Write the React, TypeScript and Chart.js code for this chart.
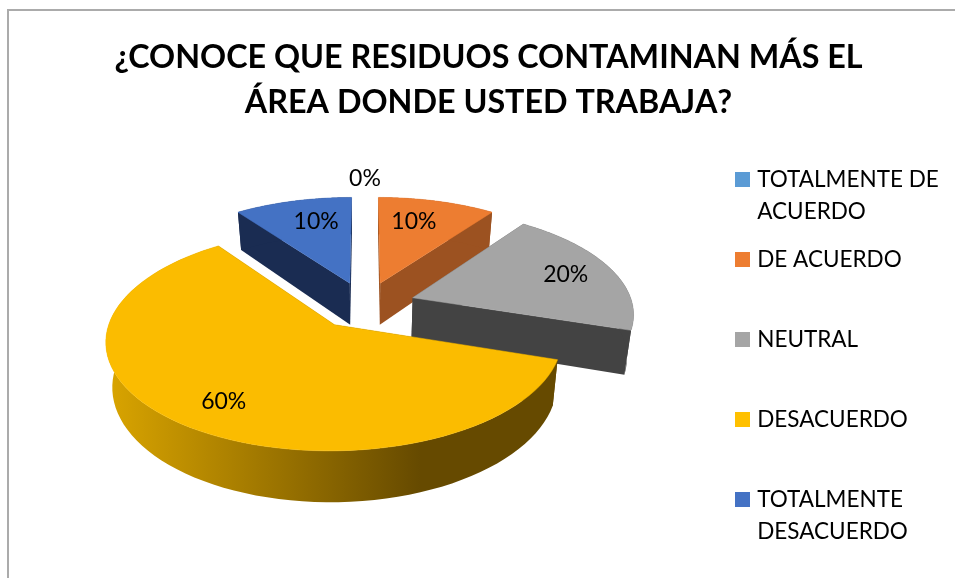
import React, { useEffect, useRef } from "react";
import { Chart, registerables } from "chart.js";

Chart.register(...registerables);

const titleLines = ["¿CONOCE QUE RESIDUOS CONTAMINAN MÁS EL", "ÁREA DONDE USTED TRABAJA?"];
const categories = ["TOTALMENTE DE ACUERDO", "DE ACUERDO", "NEUTRAL", "DESACUERDO", "TOTALMENTE DESACUERDO"];
const legendLines = [["TOTALMENTE DE", "ACUERDO"], ["DE ACUERDO", ""], ["NEUTRAL", ""], ["DESACUERDO", ""], ["TOTALMENTE", "DESACUERDO"]];
const values = [0, 10, 20, 60, 10];
const explosions = [23, 23, 23, 23, 23];
const labelRadii = [1.25, 0.71, 0.77, 0.775, 0.71];
const labelTurns = [0, -2.6, 0, -1.5, 2.6];
const topColors = ["#5B9BD5", "#ED7D31", "#A5A5A5", "#FBBC00", "#4472C4"];
const sideColors = ["#2A4F72", "#9C5221", "#434343", "#664A00", "#1A2C52"];
const legendColors = ["#5B9BD5", "#ED7D31", "#A5A5A5", "#FFC000", "#4472C4"];
const FONT = "Lato, 'Noto Sans', sans-serif";

// Projection of the pie's disc onto the page (3D view).
const CX = 365, CY = 305, AX = 220, BY = 103, PERSP = 0.137, DEPTH = 43, BOTTOM_SHRINK = 0.975;

function project(u: number, v: number, bottom = false): [number, number] {
  const w = 1 - PERSP * v;
  let x = (AX * u) / w;
  let y = (BY * v) / w;
  if (bottom) {
    x *= BOTTOM_SHRINK;
    y += DEPTH / w;
  }
  return [CX + x, CY + y];
}

function swatch(color: string) {
  const c = document.createElement("canvas");
  c.width = 15;
  c.height = 15;
  const g = c.getContext("2d")!;
  g.fillStyle = color;
  g.fillRect(0, 0, 15, 15);
  return c;
}

function poly(ctx: CanvasRenderingContext2D, pts: [number, number][], fill: string | CanvasGradient, edge = false) {
  ctx.beginPath();
  pts.forEach((p, i) => (i ? ctx.lineTo(p[0], p[1]) : ctx.moveTo(p[0], p[1])));
  ctx.closePath();
  ctx.fillStyle = fill;
  ctx.fill();
  if (edge) {
    ctx.strokeStyle = fill as string;
    ctx.lineWidth = 0.5;
    ctx.stroke();
  }
}

const pie3d = {
  id: "pie3d",
  beforeDraw(chart: any) {
    const { ctx } = chart;
    ctx.save();
    ctx.strokeStyle = "#ABABAB";
    ctx.lineWidth = 2;
    ctx.beginPath();
    ctx.moveTo(8, 578);
    ctx.lineTo(8, 10);
    ctx.lineTo(955, 10);
    ctx.stroke();
    ctx.restore();
  },
  afterLayout(chart: any) {
    const lg = chart.legend;
    lg.left = 723;
    lg.right = 955;
    lg.top = 152.5;
    lg.bottom = 578;
  },
  beforeDatasetsDraw(chart: any) {
    const { ctx } = chart;
    const arcs = chart.getDatasetMeta(0).data;
    ctx.save();
    // Back to front: last slice, then clockwise ones, the big front slice at the end.
    const order = [4, 0, 1, 2, 3];
    order.forEach((i) => {
      const arc = arcs[i];
      if (!values[i]) return;
      const a = arc.startAngle + Math.PI / 2;
      const b = arc.endAngle + Math.PI / 2;
      const mid = (a + b) / 2;
      const d = arc.options.offset / 100;
      const ou = d * Math.sin(mid);
      const ov = -d * Math.cos(mid);
      const N = 80;
      const rimTop: [number, number][] = [];
      const rimBot: [number, number][] = [];
      for (let k = 0; k <= N; k++) {
        const t = a + ((b - a) * k) / N;
        const u = ou + Math.sin(t);
        const v = ov - Math.cos(t);
        rimTop.push(project(u, v));
        rimBot.push(project(u, v, true));
      }
      const apexT = project(ou, ov);
      const apexB = project(ou, ov, true);
      const side = sideColors[i];
      poly(ctx, [apexT, rimTop[0], rimBot[0], apexB], side);
      poly(ctx, [apexT, rimTop[N], rimBot[N], apexB], side);
      let wall: any = side;
      if (i === 3) {
        wall = ctx.createLinearGradient(106, 0, 420, 0);
        wall.addColorStop(0, "#DAA500");
        wall.addColorStop(1, side);
      }
      poly(ctx, [...rimTop, ...rimBot.slice().reverse()], wall);
      poly(ctx, [apexT, ...rimTop], topColors[i], true);
    });
    // Data labels
    ctx.fillStyle = "#000";
    ctx.font = `23px ${FONT}`;
    ctx.textAlign = "center";
    ctx.textBaseline = "middle";
    values.forEach((val, i) => {
      const arc = arcs[i];
      const mid = (arc.startAngle + arc.endAngle) / 2 + Math.PI / 2 + (labelTurns[i] * Math.PI) / 180;
      const d = arc.options.offset / 100;
      const r = labelRadii[i];
      const [x, y] = project((d + r) * Math.sin(mid), -(d + r) * Math.cos(mid));
      ctx.fillText(`${val}%`, x, y);
    });
    ctx.restore();
    return false;
  },
};

export default function App() {
  const ref = useRef<HTMLCanvasElement>(null);
  useEffect(() => {
    const chart = new Chart(ref.current!, {
      type: "pie",
      data: {
        labels: categories,
        datasets: [{ data: values, backgroundColor: topColors, offset: explosions, borderWidth: 0 }],
      },
      options: {
        animation: false,
        responsive: false,
        layout: { padding: { left: 22 } },
        plugins: {
          title: {
            display: true,
            text: titleLines,
            color: "#000",
            font: { family: FONT, size: 32.3, weight: "bold", lineHeight: 45 / 32.3 },
            padding: { top: 35, bottom: 10 },
          },
          legend: {
            display: true,
            position: "right",
            align: "start",
            labels: {
              color: "#000",
              font: { family: FONT, size: 22.5, lineHeight: 32 / 22.5 },
              padding: 16,
              usePointStyle: true,
              pointStyleWidth: 7,
              generateLabels: () =>
                legendLines.map((text, i) => ({
                  text,
                  fillStyle: legendColors[i],
                  strokeStyle: legendColors[i],
                  lineWidth: 0,
                  pointStyle: swatch(legendColors[i]),
                  hidden: false,
                  index: i,
                })) as any,
            },
          },
          tooltip: { enabled: false },
        },
      } as any,
      plugins: [pie3d as any],
    });
    return () => chart.destroy();
  }, []);
  return (
    <canvas
      ref={ref}
      width={955}
      height={578}
      style={{ position: "absolute", left: 0, top: 0, display: "block" }}
    />
  );
}
